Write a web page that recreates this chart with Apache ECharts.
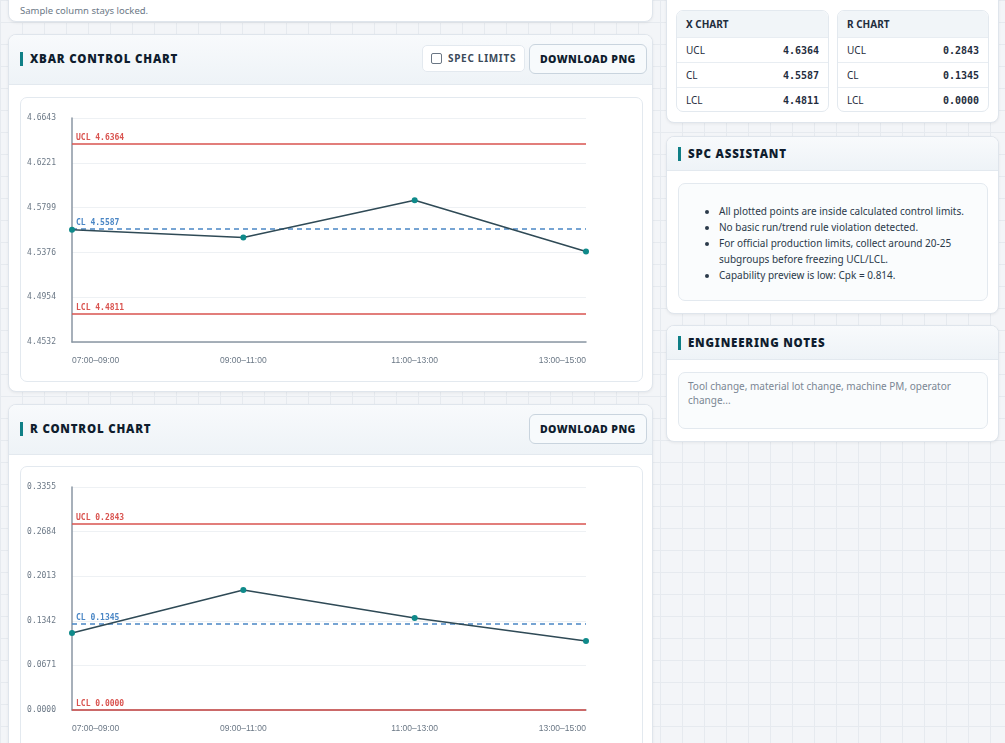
<!DOCTYPE html>
<html><head><meta charset="utf-8">
<script src="https://cdn.jsdelivr.net/npm/echarts@6/dist/echarts.min.js"></script>
<style>
*{box-sizing:border-box}
body{margin:0;width:1005px;height:743px;overflow:hidden;font-family:"Noto Sans","Open Sans",sans-serif;color:#1f2d3d;
background-color:#f3f5f8;background-image:linear-gradient(#e6eaef 1px,transparent 1px),linear-gradient(90deg,#e6eaef 1px,transparent 1px);background-size:22px 22px;}
.card{position:absolute;background:#fff;border:1px solid #dfe5ec;border-radius:8px;box-shadow:0 1px 3px rgba(0,0,0,.06);overflow:hidden}
.hdr{height:50px;background:linear-gradient(#f8fafc,#eef3f7);border-bottom:1px solid #e3e9ef;position:relative}
.ttl{position:absolute;left:11px;top:17px;font-weight:900;font-size:11.5px;letter-spacing:.8px;color:#0f1d2e;padding-left:7px;border-left:3px solid #0f7f86;line-height:14px}
.btn{position:absolute;top:10px;height:30px;border:1px solid #c9d4de;border-radius:6px;background:#f7fafc;font-weight:900;font-size:10.5px;letter-spacing:.4px;line-height:28px;padding:0 10px;color:#0f1d2e}
.chk{position:absolute;top:10px;height:27px;border:1px solid #e3e9ef;border-radius:5px;background:#fff;font-weight:700;font-size:10px;letter-spacing:.7px;line-height:25px;padding:0 8px 0 8px;color:#3b4a5a}
.chk i{display:inline-block;width:11px;height:11px;border:1px solid #6a7684;border-radius:2px;vertical-align:-2px;margin-right:6px}
.inner{position:absolute;border:1px solid #e3e9ef;border-radius:7px;background:#fff}
table{border-collapse:collapse;width:100%;font-size:10px}
td{height:25px;border-top:1px solid #e8edf2;padding:0 9px}
td.v{text-align:right;font-family:"DejaVu Sans Mono",monospace;font-weight:700;font-size:10px}
.th{height:26px;background:#f1f5f8;font-weight:700;font-size:10px;line-height:26px;padding-left:9px}
ul{margin:0;padding-left:40px;font-size:10px;line-height:16px;color:#2b3a4a}
</style></head><body>
<div class="card" style="left:8px;top:-10px;width:645px;height:32px"><div style="position:absolute;left:11px;top:13px;font-size:9.5px;color:#6b7886">Sample column stays locked.</div></div>

<div class="card" style="left:8px;top:34px;width:645px;height:358px">
 <div class="hdr"><div class="ttl">XBAR CONTROL CHART</div>
  <div class="chk" style="left:413px;top:10px"><i></i>SPEC LIMITS</div>
  <div class="btn" style="left:520px;top:9px">DOWNLOAD PNG</div></div>
 <div class="inner" style="left:11px;top:62px;width:623px;height:285px"><div id="c1" style="width:621px;height:283px"></div></div>
</div>

<div class="card" style="left:8px;top:404px;width:645px;height:360px">
 <div class="hdr"><div class="ttl">R CONTROL CHART</div>
  <div class="btn" style="left:520px;top:9px">DOWNLOAD PNG</div></div>
 <div class="inner" style="left:11px;top:61px;width:623px;height:290px"><div id="c2" style="width:621px;height:288px"></div></div>
</div>

<div class="card" style="left:666px;top:-10px;width:333px;height:133px">
 <div class="inner" style="left:9px;top:19px;width:153px;height:102px;overflow:hidden"><div class="th">X CHART</div>
  <table><tr><td>UCL</td><td class="v">4.6364</td></tr><tr><td>CL</td><td class="v">4.5587</td></tr><tr><td>LCL</td><td class="v">4.4811</td></tr></table></div>
 <div class="inner" style="left:170px;top:19px;width:152px;height:102px;overflow:hidden"><div class="th">R CHART</div>
  <table><tr><td>UCL</td><td class="v">0.2843</td></tr><tr><td>CL</td><td class="v">0.1345</td></tr><tr><td>LCL</td><td class="v">0.0000</td></tr></table></div>
</div>

<div class="card" style="left:666px;top:136px;width:333px;height:178px">
 <div class="hdr" style="height:34px"><div class="ttl" style="top:10px">SPC ASSISTANT</div></div>
 <div class="inner" style="left:11px;top:46px;width:310px;height:118px;background:#fafcfd;padding-top:19px">
 <ul><li>All plotted points are inside calculated control limits.</li><li>No basic run/trend rule violation detected.</li><li>For official production limits, collect around 20-25 subgroups before freezing UCL/LCL.</li><li>Capability preview is low: Cpk = 0.814.</li></ul></div>
</div>

<div class="card" style="left:666px;top:325px;width:333px;height:117px">
 <div class="hdr" style="height:34px"><div class="ttl" style="top:10px">ENGINEERING NOTES</div></div>
 <div class="inner" style="left:11px;top:46px;width:310px;height:57px;background:#fafcfd;padding:6px 9px;font-size:10px;color:#7b8794;line-height:14px">Tool change, material lot change, machine PM, operator change...</div>
</div>

<script>
const categories=["07:00–09:00","09:00–11:00","11:00–13:00","13:00–15:00"];
const xbarValues=[4.5590,4.5517,4.5867,4.5384];
const xbarLimits={ucl:4.6364,cl:4.5587,lcl:4.4811};
const xbarTicks=[4.4532,4.4954,4.5376,4.5799,4.6221,4.6643];
const rValues=[0.1158,0.1805,0.1384,0.1038];
const rLimits={ucl:0.2843,cl:0.1345,lcl:0.0000};
const rTicks=[0.0000,0.0671,0.1342,0.2013,0.2684,0.3355];

function opt(vals,lim,ticks,top,bottom){
 const mono='"DejaVu Sans Mono",monospace';
 const lim1=(v,name,color,dash)=>({type:'line',data:[],silent:true,color:color,
   markLine:{silent:true,symbol:'none',animation:false,
    lineStyle:{color:color,type:dash,width:1.5,opacity:1},
    label:{formatter:name+' '+v.toFixed(4),position:'insideStartTop',color:color,fontFamily:mono,fontWeight:'bold',fontSize:8,distance:[4,2]},
    data:[{yAxis:v}]}});
 return {animation:false,
  grid:{left:51,right:56,top:top,bottom:bottom},
  xAxis:{type:'category',data:categories,boundaryGap:false,
   axisLine:{lineStyle:{color:'#8a96a3',width:1.5}},axisTick:{show:false},
   axisLabel:{color:'#6b7886',fontSize:8.5,margin:14,alignMinLabel:'left',alignMaxLabel:'right'}},
  yAxis:{type:'value',min:ticks[0],max:ticks[ticks.length-1],
   axisLine:{show:true,lineStyle:{color:'#8a96a3',width:1.5}},
   axisLabel:{customValues:ticks,formatter:v=>v.toFixed(4),color:'#6b7886',fontFamily:mono,fontSize:8,margin:16},
   axisTick:{show:false,customValues:ticks},
   splitLine:{lineStyle:{color:'#eef1f4'}}},
  series:[lim1(lim.ucl,'UCL','#d9534f','solid'),lim1(lim.cl,'CL','#4a86c5',[5,4]),lim1(lim.lcl,'LCL','#d9534f','solid'),
   {type:'line',data:vals,symbol:'circle',symbolSize:6,z:5,
   lineStyle:{color:'#2f4a56',width:1.6},itemStyle:{color:'#0f8a8a'}}]};
}
echarts.init(document.getElementById('c1')).setOption(opt(xbarValues,xbarLimits,xbarTicks,20,39));
echarts.init(document.getElementById('c2')).setOption(opt(rValues,rLimits,rTicks,20,45));
</script></body></html>
